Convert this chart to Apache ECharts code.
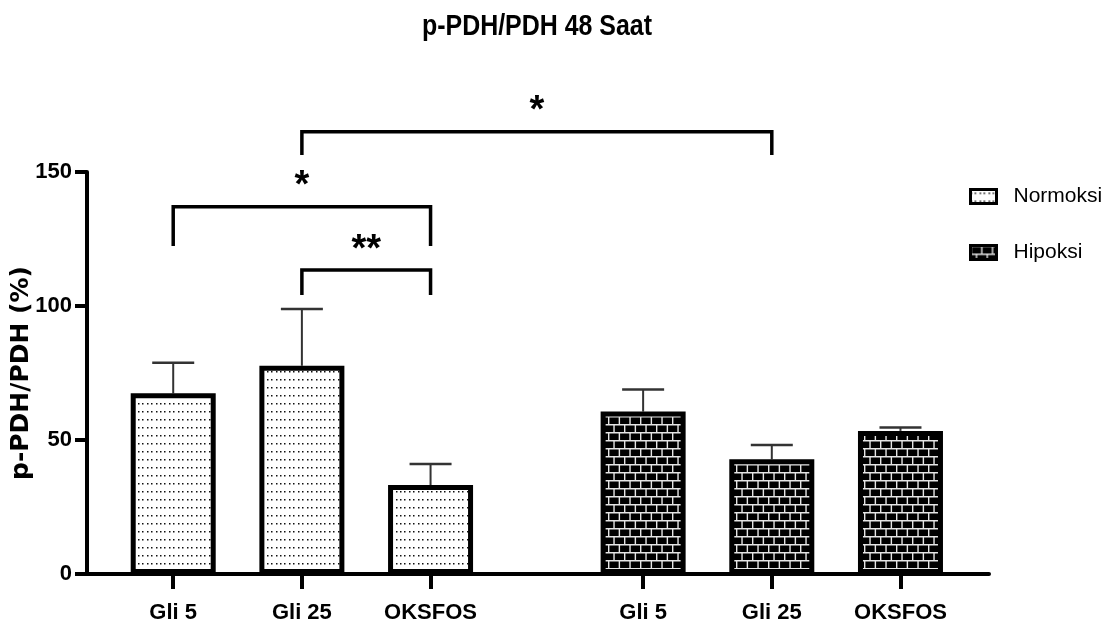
<!DOCTYPE html>
<html>
<head>
<meta charset="utf-8">
<script src="https://cdn.jsdelivr.net/npm/echarts@6/dist/echarts.min.js"></script>
<style>
  html, body { margin: 0; padding: 0; background: #fff; }
  #chart { width: 1115px; height: 635px; }
</style>
</head>
<body>
<div id="chart"></div>
<script>
// ---- data ----
const categories = ['Gli 5', 'Gli 25', 'OKSFOS'];
const groups = ['Normoksi', 'Hipoksi'];
const normoksiMean = [67.4, 77.7, 33.2];
const normoksiSD = [11.4, 21.2, 7.8];
const hipoksiMean = [60.6, 42.8, 53.4];
const hipoksiSD = [8.2, 5.3, 1.3];
const yTicks = [0, 50, 100, 150];
const chartTitle = 'p-PDH/PDH 48 Saat';
// significance brackets between bars: [group, category] ends, line level, foot level, label
const brackets = [
  { from: [0, 1], to: [1, 1], level: 165, foot: 156.3, label: '*' },
  { from: [0, 0], to: [0, 2], level: 137, foot: 122.4, label: '*' },
  { from: [0, 1], to: [0, 2], level: 113.4, foot: 104.1, label: '**' }
];

// ---- layout helpers ----
const GROUP_STEP = 3.652;          // distance between the first bars of the two groups
const xPos = (g, i) => 1 + i + g * GROUP_STEP;
const tickPositions = [];
const tickNames = [];
groups.forEach((_, g) => categories.forEach((c, i) => { tickPositions.push(xPos(g, i)); tickNames.push(c); }));
const nameAt = v => {
  let best = 0;
  tickPositions.forEach((p, k) => { if (Math.abs(p - v) < Math.abs(tickPositions[best] - v)) best = k; });
  return tickNames[best];
};

const SANS = '"Liberation Sans", Arial, sans-serif';
const WIDE = '"DejaVu Sans", "Liberation Sans", Arial, sans-serif';

// dotted fill for the normoxia bars
function dotPattern() {
  const c = document.createElement('canvas');
  c.width = 40; c.height = 8;
  const ctx = c.getContext('2d');
  ctx.fillStyle = '#fff';
  ctx.fillRect(0, 0, 40, 8);
  ctx.fillStyle = '#111';
  for (let k = 0; k < 9; k++) {
    ctx.fillRect(Math.round(k * 40 / 9), 3, 1.5, 1.5);
  }
  return c;
}
// brick fill for the hypoxia bars
function brickPattern() {
  const c = document.createElement('canvas');
  const w = 32, h = 16, bw = w / 3;
  c.width = w; c.height = h;
  const ctx = c.getContext('2d');
  ctx.fillStyle = '#000';
  ctx.fillRect(0, 0, w, h);
  ctx.strokeStyle = '#e6e6e6';
  ctx.lineWidth = 1.4;
  ctx.beginPath();
  ctx.moveTo(0, 0.7); ctx.lineTo(w, 0.7);
  ctx.moveTo(0, 8.7); ctx.lineTo(w, 8.7);
  for (let k = 0; k <= 3; k++) {
    const x1 = k * bw + 0.7;
    ctx.moveTo(x1, 0); ctx.lineTo(x1, 8);
    const x2 = k * bw + bw / 2 + 0.7;
    ctx.moveTo(x2, 8); ctx.lineTo(x2, 16);
  }
  ctx.stroke();
  return c;
}

const dotFill = { image: dotPattern(), repeat: 'repeat' };
const brickFill = { image: brickPattern(), repeat: 'repeat' };

const barSeries = (name, g, means, fill) => ({
  name: name,
  type: 'bar',
  barWidth: 85,
  barGap: '-100%',
  z: 2,
  data: means.map((v, i) => [xPos(g, i), v]),
  itemStyle: { color: fill, borderColor: '#000', borderWidth: 5 },
  emphasis: { disabled: true }
});

const errorData = [];
normoksiMean.forEach((m, i) => errorData.push([xPos(0, i), m, normoksiSD[i]]));
hipoksiMean.forEach((m, i) => errorData.push([xPos(1, i), m, hipoksiSD[i]]));

const bracketData = brackets.map(b => [xPos(b.from[0], b.from[1]), xPos(b.to[0], b.to[1]), b.level, b.foot]);

const chart = echarts.init(document.getElementById('chart'), null, { renderer: 'canvas' });
chart.setOption({
  animation: false,
  backgroundColor: '#fff',
  // condensed bold heading
  graphic: [{
    type: 'text',
    x: 537,
    y: 27,
    scaleX: 0.86,
    style: { text: chartTitle, fontFamily: SANS, fontWeight: 'bold', fontSize: 29, fill: '#000', align: 'center', verticalAlign: 'middle' }
  }],
  legend: {
    data: groups,
    orient: 'vertical',
    left: 969,
    top: 186,
    padding: 0,
    itemWidth: 26,
    itemHeight: 14,
    itemGap: 35,
    icon: 'rect',
    itemStyle: { borderWidth: 3, borderColor: '#000' },
    textStyle: { fontFamily: SANS, fontSize: 21, color: '#000', padding: [0, 0, 0, 12] }
  },
  grid: { left: 87, right: 126, top: 172, bottom: 61, outerBoundsMode: 'none', containLabel: false },
  xAxis: {
    type: 'value',
    min: 0.33,
    max: 7.34,
    splitLine: { show: false },
    axisLine: { show: true, lineStyle: { color: '#000', width: 4 } },
    axisTick: { show: true, customValues: tickPositions, length: 15, lineStyle: { color: '#000', width: 4 } },
    axisLabel: {
      customValues: tickPositions,
      formatter: v => nameAt(v),
      fontFamily: SANS, fontWeight: 'bold', fontSize: 22, color: '#000', margin: 28
    }
  },
  yAxis: {
    type: 'value',
    min: yTicks[0],
    max: yTicks[yTicks.length - 1],
    interval: yTicks[1] - yTicks[0],
    name: 'p-PDH/PDH (%)',
    nameLocation: 'middle',
    nameRotate: 90,
    nameGap: 53,
    nameMoveOverlap: false,
    nameTextStyle: { fontFamily: WIDE, fontWeight: 'bold', fontSize: 25, color: '#000' },
    splitLine: { show: false },
    axisLine: { show: true, lineStyle: { color: '#000', width: 4 } },
    axisTick: { show: true, length: 12, lineStyle: { color: '#000', width: 4 } },
    axisLabel: { fontFamily: SANS, fontWeight: 'bold', fontSize: 22, color: '#000', margin: 15 }
  },
  series: [
    barSeries(groups[0], 0, normoksiMean, dotFill),
    barSeries(groups[1], 1, hipoksiMean, brickFill),
    {
      name: 'sd',
      type: 'custom',
      z: 1,
      data: errorData,
      encode: { x: 0, y: 1 },
      renderItem: (params, api) => {
        const x = api.value(0), m = api.value(1), sd = api.value(2);
        const base = api.coord([x, m]);
        const top = api.coord([x, m + sd]);
        const half = 21;
        return {
          type: 'group',
          children: [
            { type: 'line', shape: { x1: base[0], y1: base[1], x2: top[0], y2: top[1] }, style: { stroke: '#333', lineWidth: 2 } },
            { type: 'line', shape: { x1: top[0] - half, y1: top[1], x2: top[0] + half, y2: top[1] }, style: { stroke: '#333', lineWidth: 2.5 } }
          ]
        };
      }
    },
    {
      name: 'sig',
      type: 'custom',
      z: 3,
      clip: false,
      data: bracketData,
      encode: { x: [0, 1], y: [2, 3] },
      renderItem: (params, api) => {
        const x1 = api.value(0), x2 = api.value(1), lv = api.value(2), ft = api.value(3);
        const a = api.coord([x1, lv]);
        const b = api.coord([x2, lv]);
        const fa = api.coord([x1, ft]);
        const fb = api.coord([x2, ft]);
        return {
          type: 'group',
          children: [
            { type: 'polyline', shape: { points: [[fa[0], fa[1]], [a[0], a[1]], [b[0], b[1]], [fb[0], fb[1]]] },
              style: { stroke: '#000', lineWidth: 3.5, fill: null, lineJoin: 'miter' } },
            { type: 'text', x: (a[0] + b[0]) / 2, y: a[1] - 20,
              style: { text: brackets[params.dataIndex].label, fontFamily: SANS, fontWeight: 'bold',
                       fontSize: 38, fill: '#000', align: 'center', verticalAlign: 'middle' } }
          ]
        };
      }
    }
  ]
});
</script>
</body>
</html>
